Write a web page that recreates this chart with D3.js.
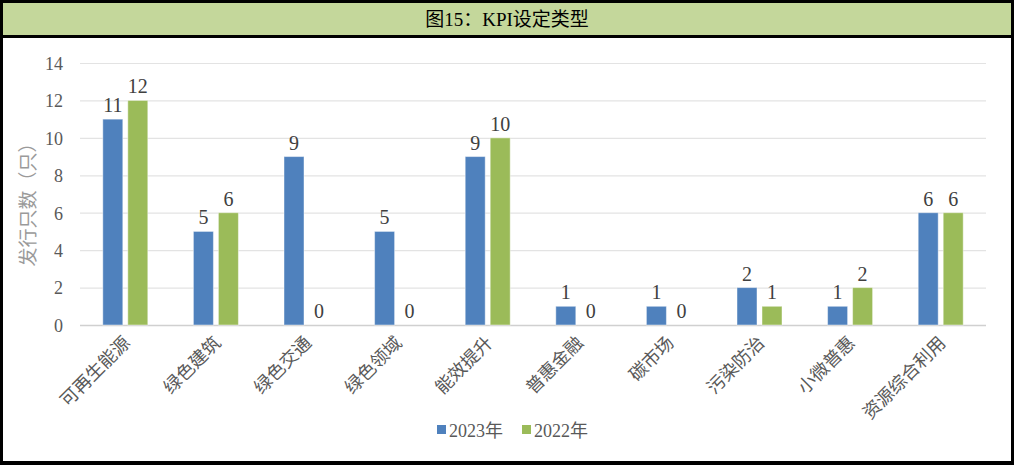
<!DOCTYPE html>
<html><head><meta charset="utf-8">
<script src="https://cdn.jsdelivr.net/npm/d3@7"></script>
<style>
html,body{margin:0;padding:0;background:#fff;}
svg{display:block;}
</style></head>
<body>
<svg id="chart" width="1014" height="469"></svg>
<script>
const categories = ["可再生能源","绿色建筑","绿色交通","绿色领域","能效提升","普惠金融","碳市场","污染防治","小微普惠","资源综合利用"];
const seriesNames = ["2023年","2022年"];
const values2023 = [11,5,9,5,9,1,1,2,1,6];
const values2022 = [12,6,0,0,10,0,0,1,2,6];
const yTicks = [0,2,4,6,8,10,12,14];
const title = "图15：KPI设定类型";
const yTitle = "发行只数（只）";
const colors = ["#4F81BD","#9BBB59"];

const seriesValues = [values2023, values2022];
const svg = d3.select("#chart");
const serif = "'Liberation Serif','Times New Roman','Noto Sans CJK SC',serif";

// frame
svg.append("rect").attr("x",0).attr("y",0).attr("width",1014).attr("height",465).attr("fill","#000");
svg.append("rect").attr("x",3).attr("y",3).attr("width",1008).attr("height",32).attr("fill","#C4D79B");
svg.append("rect").attr("x",3).attr("y",38).attr("width",1008).attr("height",423).attr("fill","#fff");
svg.append("text").attr("x",507).attr("y",26).attr("text-anchor","middle")
  .attr("font-family",serif).attr("font-size",19).attr("fill","#000").text(title);

const m = {left:80, right:986, top:63, bottom:325};
const x0 = d3.scaleBand().domain(categories).range([m.left,m.right]);
const x1 = d3.scaleBand().domain(seriesNames).range([-22.5,22.5]).paddingInner(0.2);
const y = d3.scaleLinear().domain([0,14]).range([m.bottom,m.top]);

// gridlines
svg.append("g").selectAll("line").data(yTicks).join("line")
  .attr("x1",m.left).attr("x2",m.right)
  .attr("y1",d=>y(d)+0.5).attr("y2",d=>y(d)+0.5)
  .attr("stroke",d=>d===0?"#D0D0D0":"#E3E3E3").attr("stroke-width",d=>d===0?1.5:1.2);

// y axis
const yAxis = d3.axisLeft(y).tickValues(yTicks).tickSize(0).tickPadding(0);
const ga = svg.append("g").attr("transform",`translate(63,0)`).call(yAxis);
ga.select(".domain").remove();
ga.selectAll("text").attr("font-family",serif).attr("font-size",18).attr("fill","#595959").attr("dy","0.35em");

svg.append("text").attr("transform",`translate(35,200) rotate(-90)`).attr("text-anchor","middle")
  .attr("font-family",serif).attr("font-size",19).attr("fill","#9A9A9A").text(yTitle);

// bars
seriesNames.forEach((s,si)=>{
  const g = svg.append("g");
  g.selectAll("rect").data(categories).join("rect")
    .attr("x",(c)=>x0(c)+x0.bandwidth()/2+x1(s))
    .attr("y",(c,i)=>y(seriesValues[si][i]))
    .attr("width",x1.bandwidth())
    .attr("height",(c,i)=>y(0)-y(seriesValues[si][i]))
    .attr("fill",colors[si]).attr("stroke","#fff").attr("stroke-opacity",0.45).attr("stroke-width",1);
  g.selectAll("text").data(categories).join("text")
    .attr("x",(c)=>x0(c)+x0.bandwidth()/2+x1(s)+x1.bandwidth()/2)
    .attr("y",(c,i)=>y(seriesValues[si][i])-7)
    .attr("text-anchor","middle").attr("font-family",serif).attr("font-size",20).attr("fill","#404040")
    .text((c,i)=>seriesValues[si][i]);
});

// x labels
svg.append("g").selectAll("text").data(categories).join("text")
  .attr("transform",c=>`translate(${x0(c)+x0.bandwidth()/2+6},${m.bottom+19}) rotate(-45)`)
  .attr("text-anchor","end").attr("font-family",serif).attr("font-size",18).attr("fill","#595959")
  .text(c=>c);

// legend
const legX = [437,522];
seriesNames.forEach((s,i)=>{
  svg.append("rect").attr("x",legX[i]).attr("y",425).attr("width",9).attr("height",9).attr("fill",colors[i]);
  svg.append("text").attr("x",legX[i]+12).attr("y",437).attr("font-family",serif).attr("font-size",18)
    .attr("fill","#595959").text(s);
});
</script>
</body></html>
